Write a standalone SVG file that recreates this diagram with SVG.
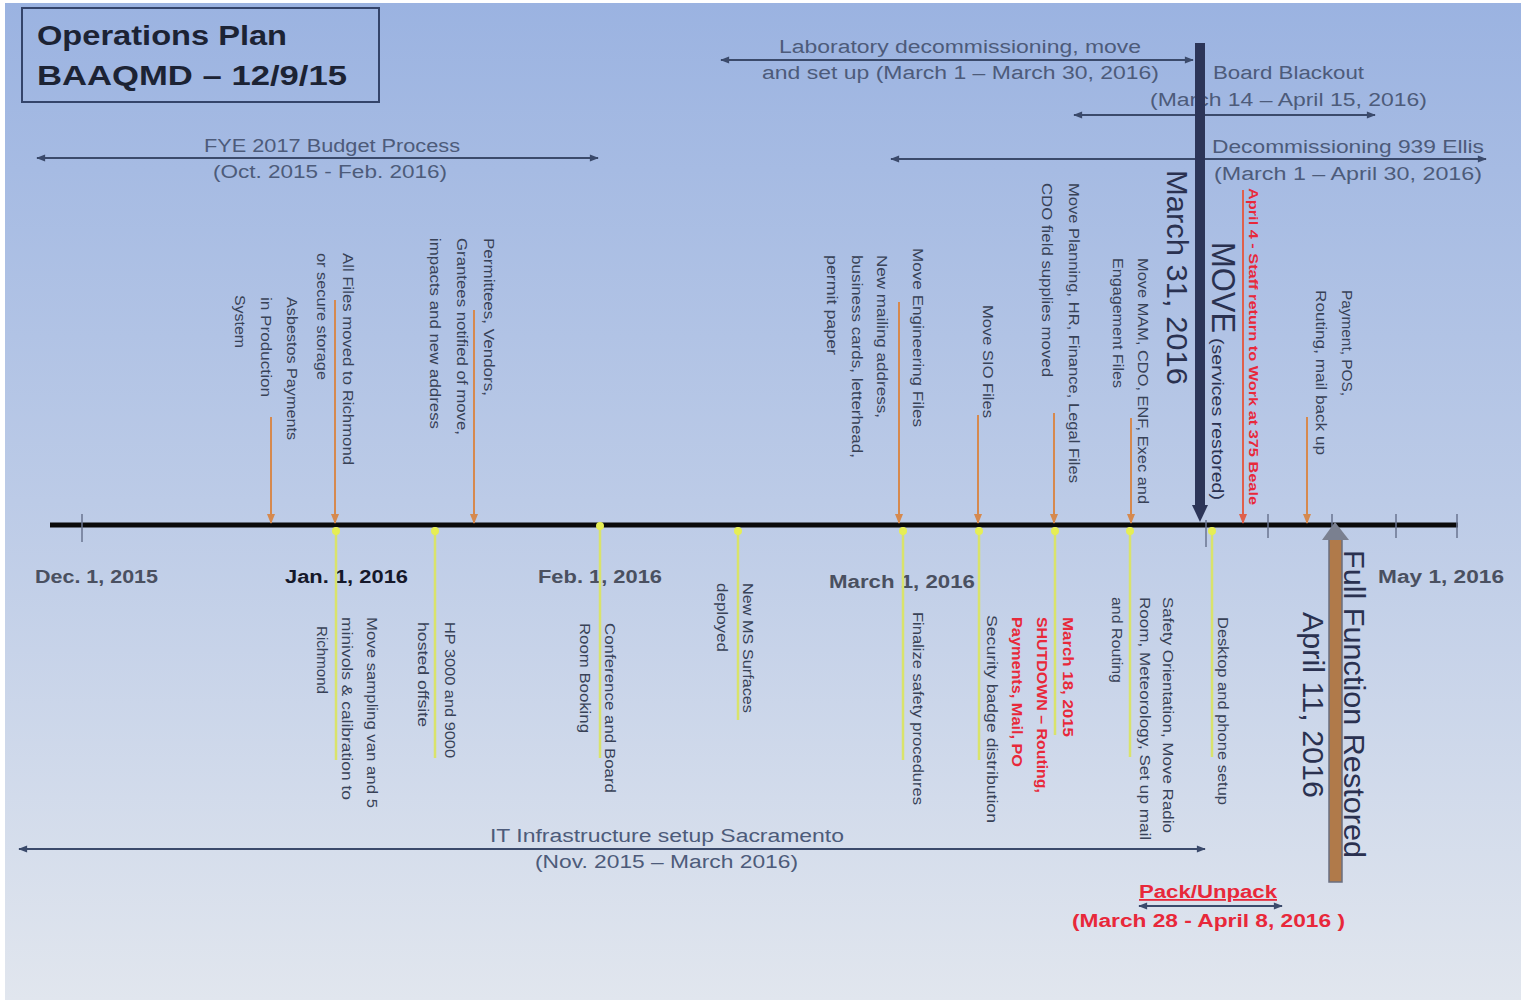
<svg xmlns="http://www.w3.org/2000/svg" width="1521" height="1000" viewBox="0 0 1521 1000">
<defs>
<linearGradient id="bg" x1="0" y1="0" x2="0" y2="1">
<stop offset="0" stop-color="#9bb3e1"/>
<stop offset="0.5" stop-color="#bccbe7"/>
<stop offset="1" stop-color="#e1e6ee"/>
</linearGradient>
<marker id="ah" viewBox="0 0 10 10" refX="9" refY="5" markerWidth="10" markerHeight="9" markerUnits="userSpaceOnUse" orient="auto-start-reverse"><path d="M0,1 L10,5 L0,9 z" fill="#3b4a6b"/></marker>
<marker id="oa" viewBox="0 0 10 10" refX="9" refY="5" markerWidth="10" markerHeight="10" markerUnits="userSpaceOnUse" orient="auto"><path d="M0,1 L10,5 L0,9 z" fill="#d6894e"/></marker>
<marker id="ra" viewBox="0 0 10 10" refX="9" refY="5" markerWidth="10" markerHeight="10" markerUnits="userSpaceOnUse" orient="auto"><path d="M0,1 L10,5 L0,9 z" fill="#e0604a"/></marker>
<style>
.lbl{font-family:"Liberation Sans",Arial,sans-serif;font-size:15px;fill:#384257}
.red{font-family:"Liberation Sans",Arial,sans-serif;font-size:14px;font-weight:bold;fill:#e8283a}
.span{font-family:"Liberation Sans",Arial,sans-serif;font-size:18px;fill:#4d5b7a}
.date{font-family:"Liberation Sans",Arial,sans-serif;font-size:18px;font-weight:bold;fill:#4a5060}
.big{font-family:"Liberation Sans",Arial,sans-serif;font-size:30px;fill:#2a3150}
.title{font-family:"Liberation Sans",Arial,sans-serif;font-size:28px;font-weight:bold;fill:#1c2334}
.sl{stroke:#3b4a6b;stroke-width:2;fill:none}
.ol{stroke:#d6894e;stroke-width:2;fill:none}
.yl{stroke:#d9e36b;stroke-width:2.5;fill:none}
.yd{fill:#e6ee55}
.tick{stroke:#6a7590;stroke-width:1.5}
</style>
</defs>
<rect x="0" y="0" width="1521" height="1000" fill="#ffffff"/>
<rect x="5" y="3" width="1516" height="997" fill="url(#bg)"/>

<g id="title">
<rect x="22" y="8" width="357" height="94" fill="none" stroke="#34446a" stroke-width="2"/>
<text class="title" x="37" y="45" textLength="250" lengthAdjust="spacingAndGlyphs">Operations Plan</text>
<text class="title" x="37" y="85" textLength="310" lengthAdjust="spacingAndGlyphs">BAAQMD – 12/9/15</text>
</g>

<g id="timeline">
<line x1="50" y1="525" x2="1458" y2="525" stroke="#0a0a0a" stroke-width="5"/>
<line class="tick" x1="82" y1="514" x2="82" y2="542"/>
<line class="tick" x1="1206" y1="520" x2="1206" y2="547"/>
<line class="tick" x1="1268" y1="514" x2="1268" y2="538"/>
<line class="tick" x1="1332" y1="514" x2="1332" y2="538"/>
<line class="tick" x1="1396" y1="514" x2="1396" y2="538"/>
<line class="tick" x1="1457" y1="514" x2="1457" y2="538"/>
<text class="date" x="35" y="583" textLength="123" lengthAdjust="spacingAndGlyphs">Dec. 1, 2015</text>
<text class="date" x="285" y="583" textLength="123" lengthAdjust="spacingAndGlyphs" style="fill:#15182a">Jan. 1, 2016</text>
<text class="date" x="538" y="583" textLength="124" lengthAdjust="spacingAndGlyphs">Feb. 1, 2016</text>
<text class="date" x="829" y="588" textLength="146" lengthAdjust="spacingAndGlyphs">March 1, 2016</text>
<text class="date" x="1378" y="583" textLength="126" lengthAdjust="spacingAndGlyphs">May 1, 2016</text>
</g>

<g id="connectors">
<line class="sl" x1="37" y1="158" x2="598" y2="158" marker-start="url(#ah)" marker-end="url(#ah)"/>
<line class="sl" x1="721" y1="60" x2="1193" y2="60" marker-start="url(#ah)" marker-end="url(#ah)"/>
<line class="sl" x1="1074" y1="115" x2="1375" y2="115" marker-start="url(#ah)" marker-end="url(#ah)"/>
<line class="sl" x1="891" y1="159" x2="1486" y2="159" marker-start="url(#ah)" marker-end="url(#ah)"/>
<line class="sl" x1="19" y1="849" x2="1205" y2="849" marker-start="url(#ah)" marker-end="url(#ah)"/>
<line class="sl" x1="1139" y1="906" x2="1282" y2="906" marker-start="url(#ah)" marker-end="url(#ah)"/>
<line class="ol" x1="271" y1="417" x2="271" y2="523" marker-end="url(#oa)"/>
<line class="ol" x1="335" y1="300" x2="335" y2="523" marker-end="url(#oa)"/>
<line class="ol" x1="474" y1="310" x2="474" y2="523" marker-end="url(#oa)"/>
<line class="ol" x1="899" y1="302" x2="899" y2="523" marker-end="url(#oa)"/>
<line class="ol" x1="978" y1="415" x2="978" y2="523" marker-end="url(#oa)"/>
<line class="ol" x1="1054" y1="413" x2="1054" y2="523" marker-end="url(#oa)"/>
<line class="ol" x1="1131" y1="418" x2="1131" y2="523" marker-end="url(#oa)"/>
<line x1="1243" y1="190" x2="1243" y2="523" stroke="#e0604a" stroke-width="2" marker-end="url(#ra)"/>
<line class="ol" x1="1307" y1="417" x2="1307" y2="523" marker-end="url(#oa)"/>
<line class="yl" x1="336" y1="527" x2="336" y2="760"/>
<line class="yl" x1="435" y1="527" x2="435" y2="758"/>
<line class="yl" x1="600" y1="522" x2="600" y2="758"/>
<line class="yl" x1="738" y1="527" x2="738" y2="720"/>
<line class="yl" x1="903" y1="527" x2="903" y2="760"/>
<line class="yl" x1="979" y1="527" x2="979" y2="760"/>
<line class="yl" x1="1055" y1="527" x2="1055" y2="735"/>
<line class="yl" x1="1130" y1="527" x2="1130" y2="757"/>
<line class="yl" x1="1212" y1="527" x2="1212" y2="757"/>
<circle class="yd" cx="336" cy="531" r="4"/>
<circle class="yd" cx="435" cy="531" r="4"/>
<circle class="yd" cx="600" cy="526" r="4"/>
<circle class="yd" cx="738" cy="531" r="4"/>
<circle class="yd" cx="903" cy="531" r="4"/>
<circle class="yd" cx="979" cy="531" r="4"/>
<circle class="yd" cx="1055" cy="531" r="4"/>
<circle class="yd" cx="1130" cy="531" r="4"/>
<circle class="yd" cx="1212" cy="531" r="4"/>
</g>

<g id="span-budget">
<text class="span" x="204" y="152" textLength="256" lengthAdjust="spacingAndGlyphs">FYE 2017 Budget Process</text>
<text class="span" x="213" y="178" textLength="234" lengthAdjust="spacingAndGlyphs">(Oct. 2015 - Feb. 2016)</text>
</g>
<g id="span-lab">
<text class="span" x="779" y="53" textLength="362" lengthAdjust="spacingAndGlyphs">Laboratory decommissioning, move</text>
<text class="span" x="762" y="79" textLength="397" lengthAdjust="spacingAndGlyphs">and set up (March 1 – March 30, 2016)</text>
</g>
<g id="span-board">
<text class="span" x="1213" y="79" textLength="151" lengthAdjust="spacingAndGlyphs">Board Blackout</text>
<text class="span" x="1150" y="106" textLength="277" lengthAdjust="spacingAndGlyphs">(March 14 – April 15, 2016)</text>
</g>
<g id="span-ellis">
<text class="span" x="1212" y="153" textLength="272" lengthAdjust="spacingAndGlyphs">Decommissioning 939 Ellis</text>
<text class="span" x="1214" y="180" textLength="268" lengthAdjust="spacingAndGlyphs">(March 1 – April 30, 2016)</text>
</g>
<g id="span-it">
<text class="span" x="490" y="842" textLength="354" lengthAdjust="spacingAndGlyphs">IT Infrastructure setup Sacramento</text>
<text class="span" x="535" y="868" textLength="263" lengthAdjust="spacingAndGlyphs">(Nov. 2015 – March 2016)</text>
</g>
<g id="span-pack">
<text class="red" x="1139" y="898" textLength="138" lengthAdjust="spacingAndGlyphs" text-decoration="underline" style="font-size:18px">Pack/Unpack</text>
<text class="red" x="1072" y="927" textLength="273" lengthAdjust="spacingAndGlyphs" style="font-size:18px">(March 28 - April 8, 2016 )</text>
</g>

<g id="move">
<rect x="1195" y="43" width="10" height="465" fill="#2c3558"/>
<path d="M1192,505 L1208,505 L1200,522 z" fill="#2c3558"/>
<g transform="rotate(90)">
<text class="big" x="170" y="-1167" textLength="215" lengthAdjust="spacingAndGlyphs">March 31, 2016</text>
<text class="big" x="242" y="-1212" style="font-size:33px" textLength="91" lengthAdjust="spacingAndGlyphs">MOVE</text>
<text class="big" x="338" y="-1212" style="font-size:17px" textLength="162" lengthAdjust="spacingAndGlyphs">(services restored)</text>
</g>
</g>

<g id="full-function">
<rect x="1329" y="538" width="13" height="344" fill="#b07a4a" stroke="#6a6f80" stroke-width="1.5"/>
<path d="M1322,540 L1349,540 L1335,522 z" fill="#7a8090"/>
<g transform="rotate(90)">
<text class="big" x="550" y="-1344" textLength="308" lengthAdjust="spacingAndGlyphs">Full Function Restored</text>
<text class="big" x="612" y="-1303" textLength="186" lengthAdjust="spacingAndGlyphs">April 11, 2016</text>
</g>
</g>

<g id="ev-asbestos" transform="rotate(90)">
<text class="lbl" x="297" y="-287" textLength="143" lengthAdjust="spacingAndGlyphs">Asbestos Payments</text>
<text class="lbl" x="297" y="-261" textLength="100" lengthAdjust="spacingAndGlyphs">in Production</text>
<text class="lbl" x="295" y="-235" textLength="53" lengthAdjust="spacingAndGlyphs">System</text>
</g>
<g id="ev-files" transform="rotate(90)">
<text class="lbl" x="253" y="-343" textLength="212" lengthAdjust="spacingAndGlyphs">All Files moved to Richmond</text>
<text class="lbl" x="253" y="-317" textLength="127" lengthAdjust="spacingAndGlyphs">or secure storage</text>
</g>
<g id="ev-permittees" transform="rotate(90)">
<text class="lbl" x="238" y="-484" textLength="158" lengthAdjust="spacingAndGlyphs">Permittees, Vendors,</text>
<text class="lbl" x="238" y="-457" textLength="197" lengthAdjust="spacingAndGlyphs">Grantees notified of move,</text>
<text class="lbl" x="238" y="-430" textLength="191" lengthAdjust="spacingAndGlyphs">impacts and new address</text>
</g>
<g id="ev-engineering" transform="rotate(90)">
<text class="lbl" x="248" y="-913" textLength="179" lengthAdjust="spacingAndGlyphs">Move Engineering Files</text>
<text class="lbl" x="255" y="-877" textLength="163" lengthAdjust="spacingAndGlyphs">New mailing address,</text>
<text class="lbl" x="255" y="-852" textLength="203" lengthAdjust="spacingAndGlyphs">business cards, letterhead,</text>
<text class="lbl" x="255" y="-827" textLength="100" lengthAdjust="spacingAndGlyphs">permit paper</text>
</g>
<g id="ev-sio" transform="rotate(90)">
<text class="lbl" x="305" y="-983" textLength="113" lengthAdjust="spacingAndGlyphs">Move SIO Files</text>
</g>
<g id="ev-planning" transform="rotate(90)">
<text class="lbl" x="183" y="-1069" textLength="300" lengthAdjust="spacingAndGlyphs">Move Planning, HR, Finance, Legal Files</text>
<text class="lbl" x="183" y="-1042" textLength="194" lengthAdjust="spacingAndGlyphs">CDO field supplies moved</text>
</g>
<g id="ev-mam" transform="rotate(90)">
<text class="lbl" x="258" y="-1138" textLength="246" lengthAdjust="spacingAndGlyphs">Move MAM, CDO, ENF, Exec and</text>
<text class="lbl" x="258" y="-1113" textLength="130" lengthAdjust="spacingAndGlyphs">Engagement Files</text>
</g>
<g id="ev-staff-return" transform="rotate(90)">
<text class="red" x="188" y="-1249" textLength="317" lengthAdjust="spacingAndGlyphs" style="font-size:13px">April 4 - Staff return to Work at 375 Beale</text>
</g>
<g id="ev-payment" transform="rotate(90)">
<text class="lbl" x="290" y="-1342" textLength="106" lengthAdjust="spacingAndGlyphs">Payment, POS,</text>
<text class="lbl" x="290" y="-1316" textLength="165" lengthAdjust="spacingAndGlyphs">Routing, mail back up</text>
</g>

<g id="ev-sampling" transform="rotate(90)">
<text class="lbl" x="617" y="-367" textLength="191" lengthAdjust="spacingAndGlyphs">Move sampling van and 5</text>
<text class="lbl" x="617" y="-342" textLength="183" lengthAdjust="spacingAndGlyphs">minivols &amp; calibration to</text>
<text class="lbl" x="626" y="-317" textLength="68" lengthAdjust="spacingAndGlyphs">Richmond</text>
</g>
<g id="ev-hp" transform="rotate(90)">
<text class="lbl" x="622" y="-445" textLength="136" lengthAdjust="spacingAndGlyphs">HP 3000 and 9000</text>
<text class="lbl" x="622" y="-418" textLength="105" lengthAdjust="spacingAndGlyphs">hosted offsite</text>
</g>
<g id="ev-conference" transform="rotate(90)">
<text class="lbl" x="623" y="-605" textLength="170" lengthAdjust="spacingAndGlyphs">Conference and Board</text>
<text class="lbl" x="623" y="-580" textLength="110" lengthAdjust="spacingAndGlyphs">Room Booking</text>
</g>
<g id="ev-surfaces" transform="rotate(90)">
<text class="lbl" x="583" y="-743" textLength="130" lengthAdjust="spacingAndGlyphs">New MS Surfaces</text>
<text class="lbl" x="583" y="-717" textLength="69" lengthAdjust="spacingAndGlyphs">deployed</text>
</g>
<g id="ev-safety" transform="rotate(90)">
<text class="lbl" x="612" y="-913" textLength="193" lengthAdjust="spacingAndGlyphs">Finalize safety procedures</text>
</g>
<g id="ev-badge" transform="rotate(90)">
<text class="lbl" x="615" y="-987" textLength="208" lengthAdjust="spacingAndGlyphs">Security badge distribution</text>
</g>
<g id="ev-shutdown" transform="rotate(90)">
<text class="red" x="617" y="-1063" textLength="120" lengthAdjust="spacingAndGlyphs">March 18, 2015</text>
<text class="red" x="617" y="-1037" textLength="176" lengthAdjust="spacingAndGlyphs">SHUTDOWN – Routing,</text>
<text class="red" x="617" y="-1012" textLength="150" lengthAdjust="spacingAndGlyphs">Payments, Mail, PO</text>
</g>
<g id="ev-orientation" transform="rotate(90)">
<text class="lbl" x="597" y="-1163" textLength="236" lengthAdjust="spacingAndGlyphs">Safety Orientation, Move Radio</text>
<text class="lbl" x="597" y="-1140" textLength="243" lengthAdjust="spacingAndGlyphs">Room, Meteorology, Set up mail</text>
<text class="lbl" x="597" y="-1112" textLength="86" lengthAdjust="spacingAndGlyphs">and Routing</text>
</g>
<g id="ev-desktop" transform="rotate(90)">
<text class="lbl" x="617" y="-1218" textLength="188" lengthAdjust="spacingAndGlyphs">Desktop and phone setup</text>
</g>
</svg>
